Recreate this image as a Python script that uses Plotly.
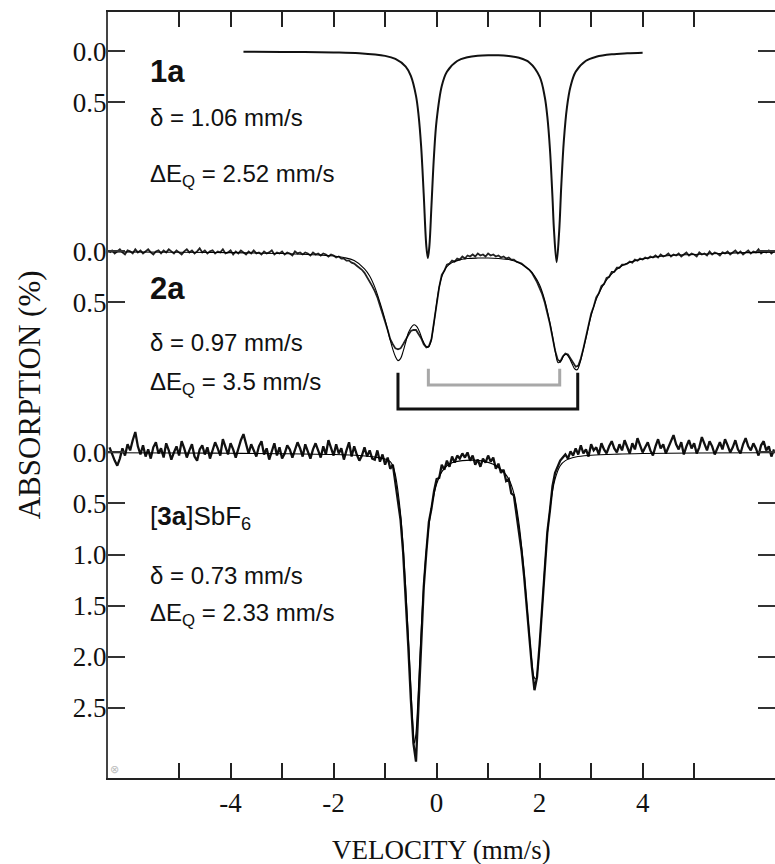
import plotly.graph_objects as go

# ---------------- data ----------------
# vertical offsets of the three stacked spectra (in % absorption units)
offsets = {"1a": 0.0, "2a": 1.96, "3a": 3.93}

# 1a: data and fit coincide; one curve
v_1a = [-3.75, -3.0, -2.0, -1.5, -1.0, -0.8, -0.6, -0.5, -0.4, -0.35, -0.3, -0.25, -0.2, -0.17,
        -0.14, -0.1, -0.05, 0.0, 0.1, 0.2, 0.4, 0.6, 0.8, 1.0, 1.2, 1.4, 1.6, 1.8, 2.0, 2.1,
        2.15, 2.2, 2.25, 2.28, 2.33, 2.38, 2.42, 2.47, 2.53, 2.6, 2.7, 2.9, 3.1, 3.4, 3.7, 4.0]
abs_1a = [0.003, 0.005, 0.010, 0.018, 0.044, 0.074, 0.149, 0.240, 0.436, 0.626, 0.933, 1.403, 1.905, 2.024,
          1.905, 1.512, 1.015, 0.677, 0.339, 0.199, 0.094, 0.058, 0.043, 0.038, 0.038, 0.046, 0.063, 0.108, 0.247, 0.447,
          0.640, 0.954, 1.432, 1.760, 2.065, 1.760, 1.323, 0.877, 0.550, 0.345, 0.200, 0.092, 0.053, 0.029, 0.019, 0.013]

# channel velocities of the 2a and 3a measurements
v_ch = [-6.35, -6.30, -6.25, -6.20, -6.15, -6.10, -6.05, -6.00, -5.95, -5.90, -5.85, -5.80, -5.75, -5.70, -5.65, -5.60, -5.55, -5.50, -5.45, -5.40,
        -5.35, -5.30, -5.25, -5.20, -5.15, -5.10, -5.05, -5.00, -4.95, -4.90, -4.85, -4.80, -4.75, -4.70, -4.65, -4.60, -4.55, -4.50, -4.45, -4.40,
        -4.35, -4.30, -4.25, -4.20, -4.15, -4.10, -4.05, -4.00, -3.95, -3.90, -3.85, -3.80, -3.75, -3.70, -3.65, -3.60, -3.55, -3.50, -3.45, -3.40,
        -3.35, -3.30, -3.25, -3.20, -3.15, -3.10, -3.05, -3.00, -2.95, -2.90, -2.85, -2.80, -2.75, -2.70, -2.65, -2.60, -2.55, -2.50, -2.45, -2.40,
        -2.35, -2.30, -2.25, -2.20, -2.15, -2.10, -2.05, -2.00, -1.95, -1.90, -1.85, -1.80, -1.75, -1.70, -1.65, -1.60, -1.55, -1.50, -1.45, -1.40,
        -1.35, -1.30, -1.25, -1.20, -1.15, -1.10, -1.05, -1.00, -0.95, -0.90, -0.85, -0.80, -0.75, -0.70, -0.65, -0.60, -0.55, -0.50, -0.45, -0.40,
        -0.35, -0.30, -0.25, -0.20, -0.15, -0.10, -0.05, 0.00, 0.05, 0.10, 0.15, 0.20, 0.25, 0.30, 0.35, 0.40, 0.45, 0.50, 0.55, 0.60,
        0.65, 0.70, 0.75, 0.80, 0.85, 0.90, 0.95, 1.00, 1.05, 1.10, 1.15, 1.20, 1.25, 1.30, 1.35, 1.40, 1.45, 1.50, 1.55, 1.60,
        1.65, 1.70, 1.75, 1.80, 1.85, 1.90, 1.95, 2.00, 2.05, 2.10, 2.15, 2.20, 2.25, 2.30, 2.35, 2.40, 2.45, 2.50, 2.55, 2.60,
        2.65, 2.70, 2.75, 2.80, 2.85, 2.90, 2.95, 3.00, 3.05, 3.10, 3.15, 3.20, 3.25, 3.30, 3.35, 3.40, 3.45, 3.50, 3.55, 3.60,
        3.65, 3.70, 3.75, 3.80, 3.85, 3.90, 3.95, 4.00, 4.05, 4.10, 4.15, 4.20, 4.25, 4.30, 4.35, 4.40, 4.45, 4.50, 4.55, 4.60,
        4.65, 4.70, 4.75, 4.80, 4.85, 4.90, 4.95, 5.00, 5.05, 5.10, 5.15, 5.20, 5.25, 5.30, 5.35, 5.40, 5.45, 5.50, 5.55, 5.60,
        5.65, 5.70, 5.75, 5.80, 5.85, 5.90, 5.95, 6.00, 6.05, 6.10, 6.15, 6.20, 6.25, 6.30, 6.35, 6.40, 6.45, 6.50, 6.55]

data_2a = [0.01, -0.01, 0.02, 0.00, -0.02, 0.01, 0.03, -0.01, 0.00, 0.02, -0.02, 0.01, -0.01, 0.02, 0.00, -0.02, 0.01, 0.03, 0.00, -0.01,
           0.02, -0.01, 0.01, -0.02, 0.00, 0.02, -0.01, 0.01, 0.03, 0.00, -0.02, 0.01, -0.01, 0.02, 0.00, -0.03, 0.01, -0.01, 0.02, 0.00,
           -0.01, 0.02, 0.00, 0.01, -0.02, 0.02, 0.01, -0.01, 0.03, 0.00, 0.02, -0.01, 0.01, 0.03, 0.00, 0.02, -0.01, 0.02, 0.01, 0.03,
           0.00, 0.02, 0.01, -0.01, 0.03, 0.01, 0.02, 0.00, 0.03, 0.01, 0.02, 0.04, 0.00, 0.02, 0.01, 0.03, 0.01, 0.02, 0.04, 0.01,
           0.03, 0.02, 0.04, 0.02, 0.03, 0.05, 0.03, 0.04, 0.06, 0.05, 0.07, 0.07, 0.09, 0.09, 0.11, 0.12, 0.14, 0.16, 0.18, 0.21,
           0.25, 0.29, 0.34, 0.39, 0.45, 0.53, 0.60, 0.69, 0.77, 0.86, 0.91, 0.95, 0.96, 0.95, 0.91, 0.86, 0.82, 0.78, 0.77, 0.77,
           0.81, 0.85, 0.91, 0.94, 0.93, 0.86, 0.69, 0.50, 0.35, 0.23, 0.19, 0.13, 0.12, 0.09, 0.10, 0.07, 0.08, 0.05, 0.07, 0.04,
           0.05, 0.03, 0.05, 0.02, 0.04, 0.03, 0.05, 0.02, 0.04, 0.03, 0.05, 0.04, 0.06, 0.05, 0.07, 0.06, 0.08, 0.08, 0.10, 0.11,
           0.12, 0.14, 0.16, 0.18, 0.21, 0.25, 0.30, 0.36, 0.42, 0.50, 0.60, 0.71, 0.84, 0.97, 1.06, 1.08, 1.03, 1.00, 1.01, 1.05,
           1.10, 1.13, 1.12, 1.05, 0.95, 0.84, 0.72, 0.61, 0.54, 0.45, 0.41, 0.34, 0.32, 0.26, 0.25, 0.20, 0.20, 0.16, 0.16, 0.13,
           0.13, 0.12, 0.10, 0.11, 0.08, 0.09, 0.07, 0.08, 0.06, 0.07, 0.05, 0.06, 0.04, 0.06, 0.03, 0.05, 0.04, 0.02, 0.05, 0.03,
           0.04, 0.02, 0.05, 0.03, 0.01, 0.04, 0.02, 0.03, 0.05, 0.01, 0.03, 0.02, 0.04, 0.00, 0.03, 0.01, 0.02, 0.04, 0.01, 0.02,
           0.00, 0.03, 0.01, -0.01, 0.02, 0.00, 0.03, 0.01, -0.01, 0.02, 0.00, 0.01, -0.02, 0.02, 0.00, 0.01, -0.01, 0.02, 0.00]

data_3a = [-0.05, 0.02, 0.08, 0.13, 0.06, -0.04, 0.03, -0.08, -0.02, -0.12, -0.20, -0.06, 0.02, -0.07, 0.04, -0.03, 0.06, -0.05, -0.10, 0.01,
           -0.04, 0.05, -0.09, -0.02, 0.07, 0.00, -0.06, 0.03, -0.11, -0.04, 0.05, -0.02, -0.08, 0.04, 0.08, -0.03, -0.07, 0.02, -0.05, 0.06,
           -0.01, -0.10, -0.04, 0.03, -0.13, -0.06, 0.02, -0.09, -0.03, 0.05, -0.05, -0.12, -0.18, -0.07, 0.01, -0.08, -0.02, 0.04, -0.06, -0.11,
           0.02, -0.04, 0.07, -0.01, -0.09, 0.03, -0.05, 0.06, 0.01, -0.07, -0.03, 0.05, -0.02, -0.10, -0.04, 0.04, -0.08, 0.00, 0.06, -0.03,
           -0.09, -0.02, 0.05, -0.06, 0.02, -0.12, -0.05, 0.03, -0.08, 0.01, -0.04, 0.07, -0.02, -0.10, 0.04, -0.06, 0.02, 0.08, 0.03, -0.05,
           0.04, -0.02, 0.06,
           0.07, -0.02, 0.09, 0.02, 0.12, 0.05, 0.16, 0.12, 0.30, 0.45,
           0.66, 0.98, 1.40, 1.90, 2.42, 2.85, 3.03, 2.40, 1.85, 1.32,
           0.98, 0.68, 0.55, 0.38, 0.26, 0.25, 0.12, 0.17, 0.08, 0.14,
           0.04, 0.10, 0.03, 0.06, 0.01, 0.05, 0.00, 0.08, 0.03, 0.12,
           0.07, 0.14, 0.06, 0.10, 0.03, 0.09, 0.05, 0.16, 0.11, 0.20,
           0.17, 0.28, 0.26, 0.40, 0.42, 0.60, 0.78, 0.97, 1.22, 1.52,
           1.80, 2.10, 2.33, 2.20, 1.88, 1.52, 1.12, 0.78, 0.57, 0.33,
           0.20, 0.13, 0.08, 0.05, 0.02, 0.06, -0.01,
           0.03, -0.04, 0.02, -0.07, 0.01, -0.03, 0.04, -0.08, -0.02, -0.05, 0.02, -0.09, -0.03, 0.01, -0.06, -0.11, -0.04, 0.00, -0.08, -0.02,
           -0.12, -0.05, 0.01, -0.09, -0.03, -0.14, -0.07, 0.00, -0.05, -0.10, -0.02, 0.03, -0.06, -0.13, -0.04, -0.08, 0.01, -0.05, -0.11, -0.17,
           -0.08, -0.03, -0.10, 0.02, -0.06, -0.12, -0.04, -0.09, 0.01, -0.05, -0.15, -0.08, -0.02, -0.11, -0.06, 0.02, -0.04, -0.10, -0.03, -0.13,
           -0.07, 0.00, -0.05, -0.12, -0.03, 0.01, -0.08, -0.14, -0.06, -0.02, -0.09, -0.04, 0.03, -0.07, -0.11, -0.02, -0.06, 0.04, -0.03]

# fitted curves
v_fit2a = [-6.38, -5.0, -4.0, -3.0, -2.5, -2.0, -1.8, -1.6, -1.4, -1.3, -1.2, -1.1, -1.0, -0.9, -0.85, -0.8, -0.75,
           -0.7, -0.65, -0.6, -0.55, -0.5, -0.45, -0.42, -0.38, -0.33, -0.28, -0.22, -0.17, -0.12, -0.08, -0.04,
           0.0, 0.05, 0.1, 0.15, 0.2, 0.3, 0.4, 0.6, 0.8, 1.0, 1.2, 1.4, 1.6, 1.8, 1.9, 2.0, 2.1, 2.2, 2.25, 2.3,
           2.36, 2.42, 2.47, 2.52, 2.57, 2.63, 2.68, 2.73, 2.78, 2.83, 2.9, 3.0, 3.1, 3.2, 3.3, 3.4, 3.6, 3.8, 4.0,
           4.4, 5.0, 5.5, 6.0, 6.57]
fit_2a = [0.005, 0.008, 0.012, 0.02, 0.03, 0.045, 0.06, 0.09, 0.17, 0.24, 0.35, 0.50, 0.67, 0.87, 0.96, 1.03, 1.07,
          1.05, 0.98, 0.89, 0.80, 0.75, 0.72, 0.72, 0.74, 0.79, 0.86, 0.92, 0.94, 0.90, 0.80, 0.66,
          0.51, 0.35, 0.25, 0.19, 0.15, 0.11, 0.09, 0.07, 0.065, 0.065, 0.07, 0.08, 0.11, 0.18, 0.24, 0.33, 0.48, 0.70, 0.83, 0.97,
          1.09, 1.07, 1.02, 1.01, 1.04, 1.10, 1.15, 1.16, 1.10, 1.00, 0.85, 0.63, 0.47, 0.36, 0.28, 0.22, 0.14, 0.10, 0.075,
          0.045, 0.03, 0.02, 0.012, 0.008]

v_fit3a = [-6.38, -5.0, -4.0, -3.0, -2.0, -1.5, -1.2, -1.0, -0.9, -0.85, -0.8, -0.75, -0.7, -0.65, -0.6, -0.55, -0.5,
           -0.46, -0.43, -0.40, -0.36, -0.32, -0.28, -0.24, -0.2, -0.15, -0.1, -0.05, 0.0, 0.1, 0.2, 0.3, 0.5, 0.7,
           0.9, 1.1, 1.3, 1.4, 1.5, 1.6, 1.65, 1.7, 1.75, 1.8, 1.85, 1.89, 1.93, 1.97, 2.01, 2.05, 2.1, 2.15, 2.2,
           2.25, 2.3, 2.4, 2.5, 2.7, 3.0, 3.5, 4.0, 5.0, 6.57]
fit_3a = [0.003, 0.005, 0.008, 0.012, 0.02, 0.03, 0.045, 0.065, 0.09, 0.13, 0.22, 0.38, 0.60, 0.92, 1.32, 1.80, 2.30,
          2.68, 2.85, 2.75, 2.40, 1.95, 1.55, 1.22, 0.96, 0.72, 0.54, 0.41, 0.31, 0.19, 0.13, 0.10, 0.08, 0.075,
          0.085, 0.115, 0.19, 0.26, 0.40, 0.70, 0.92, 1.18, 1.48, 1.78, 2.05, 2.20, 2.22, 2.08, 1.82, 1.52, 1.12, 0.80, 0.56,
          0.38, 0.26, 0.13, 0.08, 0.045, 0.028, 0.016, 0.01, 0.005, 0.002]

# doublet markers for 2a (line positions, mm/s)
doublet_black = [-0.75, 2.74]
doublet_gray = [-0.16, 2.39]

# y tick labels of each spectrum
ticks_1a = [0.0, 0.5]
ticks_2a = [0.0, 0.5]
ticks_3a = [0.0, 0.5, 1.0, 1.5, 2.0, 2.5]
x_ticks = [-5, -4, -3, -2, -1, 0, 1, 2, 3, 4, 5]
x_labels = ["", "-4", "", "-2", "", "0", "", "2", "", "4", ""]

# ---------------- figure ----------------
def shift(vals, off):
    return [v + off for v in vals]

fig = go.Figure()
fig.add_trace(go.Scatter(x=v_1a, y=shift(abs_1a, offsets["1a"]), mode="lines",
                         line=dict(color="#111", width=2.0), line_shape="spline", hoverinfo="skip"))
fig.add_trace(go.Scatter(x=v_ch, y=shift(data_2a, offsets["2a"]), mode="lines",
                         line=dict(color="#222", width=1.8), hoverinfo="skip"))
fig.add_trace(go.Scatter(x=v_fit2a, y=shift(fit_2a, offsets["2a"]), mode="lines",
                         line=dict(color="#000", width=1.1), line_shape="spline", hoverinfo="skip"))
fig.add_trace(go.Scatter(x=v_ch, y=shift(data_3a, offsets["3a"]), mode="lines",
                         line=dict(color="#111", width=2.3), hoverinfo="skip"))
fig.add_trace(go.Scatter(x=v_fit3a, y=shift(fit_3a, offsets["3a"]), mode="lines",
                         line=dict(color="#000", width=1.1), line_shape="spline", hoverinfo="skip"))

# doublet brackets
o2 = offsets["2a"]
bk_top, bk_bot = o2 + 1.19, o2 + 1.545
gr_top, gr_bot = o2 + 1.15, o2 + 1.31
fig.add_trace(go.Scatter(x=[doublet_black[0], doublet_black[0], doublet_black[1], doublet_black[1]],
                         y=[bk_top, bk_bot, bk_bot, bk_top], mode="lines",
                         line=dict(color="#111", width=3), hoverinfo="skip"))
fig.add_trace(go.Scatter(x=[doublet_gray[0], doublet_gray[0], doublet_gray[1], doublet_gray[1]],
                         y=[gr_top, gr_bot, gr_bot, gr_top], mode="lines",
                         line=dict(color="#a8a8a8", width=3), hoverinfo="skip"))

tickvals, ticktext = [], []
for name, tl in (("1a", ticks_1a), ("2a", ticks_2a), ("3a", ticks_3a)):
    for t in tl:
        tickvals.append(offsets[name] + t)
        ticktext.append(f"{t:.1f}")

serif = "Liberation Serif, Times New Roman, serif"
sans = "Liberation Sans, Arial, sans-serif"

fig.update_layout(
    width=775, height=864,
    margin=dict(l=108, r=0, t=12, b=86, autoexpand=False),
    paper_bgcolor="white", plot_bgcolor="white",
    showlegend=False,
    xaxis=dict(range=[-6.38, 6.57], tickvals=x_ticks, ticktext=x_labels, automargin=False,
               ticks="inside", ticklen=15, tickwidth=1.5, tickcolor="#222",
               showline=True, linecolor="#222", linewidth=2, mirror="ticks",
               showgrid=False, zeroline=False,
               tickfont=dict(family=serif, size=27, color="#111")),
    yaxis=dict(range=[7.12, -0.386], tickvals=tickvals, ticktext=ticktext, automargin=False,
               ticks="inside", ticklen=17, tickwidth=1.5, tickcolor="#333",
               showline=True, linecolor="#444", linewidth=2, mirror="ticks",
               showgrid=False, zeroline=False, ticklabelstandoff=-6,
               tickfont=dict(family=serif, size=27, color="#111")),
)

# axis titles
fig.add_annotation(x=0.5, y=-0.094, xref="paper", yref="paper", text="VELOCITY (mm/s)",
                   showarrow=False, xanchor="center", yanchor="middle",
                   font=dict(family=serif, size=27, color="#111"))
fig.add_annotation(x=-0.118, y=0.5, xref="paper", yref="paper", text="ABSORPTION (%)",
                   showarrow=False, textangle=-90, xanchor="center", yanchor="middle",
                   font=dict(family=serif, size=31, color="#111"))

ax = -5.61
labels = [
    ("<b>1a</b>", 0.20, 31),
    ("δ = 1.06 mm/s", 0.65, 24),
    ("ΔE<sub>Q</sub> = 2.52 mm/s", 1.22, 24),
    ("<b>2a</b>", 2.32, 31),
    ("δ = 0.97 mm/s", 2.85, 24),
    ("ΔE<sub>Q</sub> = 3.5 mm/s", 3.25, 24),
    ("[<b>3a</b>]SbF<sub>6</sub>", 4.57, 26),
    ("δ = 0.73 mm/s", 5.14, 24),
    ("ΔE<sub>Q</sub> = 2.33 mm/s", 5.52, 24),
]
for text, yy, sz in labels:
    fig.add_annotation(x=ax, y=yy, xref="x", yref="y", text=text, showarrow=False,
                       xanchor="left", yanchor="middle",
                       font=dict(family=sans, size=sz, color="#111"))

fig.add_annotation(x=-6.25, y=7.03, xref="x", yref="y", text="⊗", showarrow=False,
                   font=dict(family=sans, size=11, color="#bbb"))

# remove the browser's default page margin so the figure sits at the window origin
fig.write_html("out.html", config={"displayModeBar": False},
               post_script="document.body.style.margin='0';document.body.style.padding='0';")
